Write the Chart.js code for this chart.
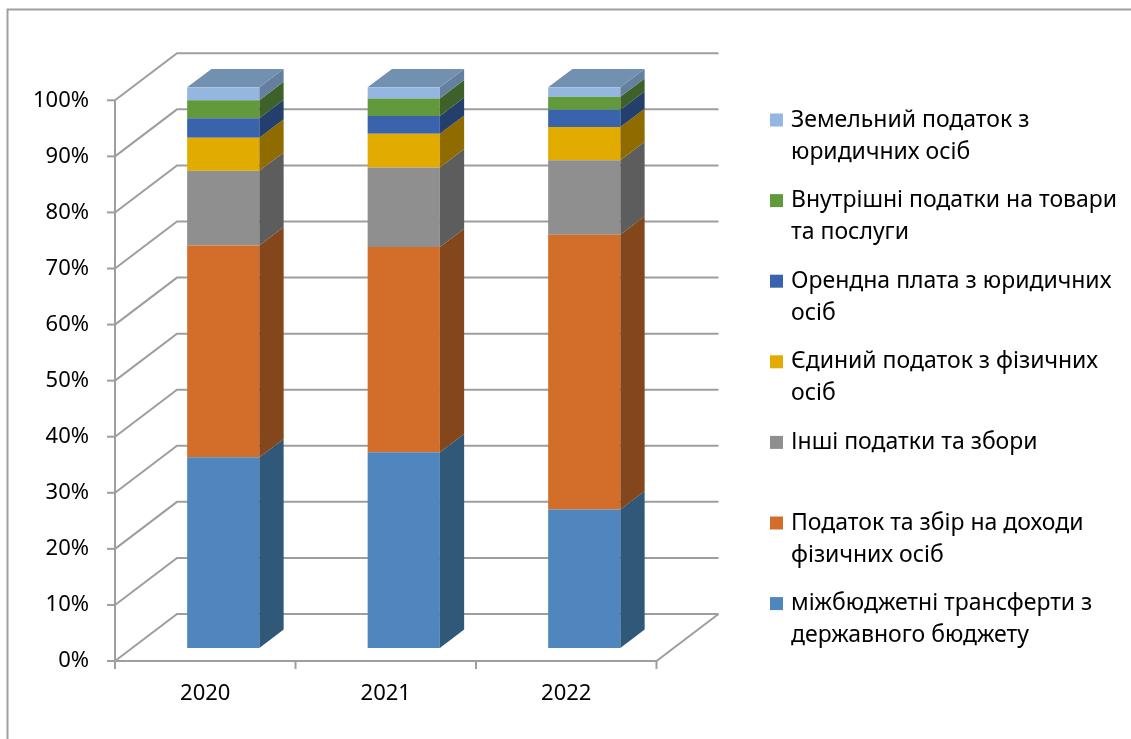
<!DOCTYPE html>
<html><head><meta charset="utf-8">
<script src="https://cdn.jsdelivr.net/npm/chart.js@4"></script>
<style>html,body{margin:0;padding:0;background:#fff}canvas{display:block}</style>
</head><body>
<canvas id="c" width="1131" height="739"></canvas>
<script>
// ---- data ----
const categories = ['2020', '2021', '2022'];
const transfers     = [34.0, 34.9, 24.7];   // міжбюджетні трансферти з державного бюджету
const personalIncome= [37.8, 36.6, 49.0];   // Податок та збір на доходи фізичних осіб
const otherTaxes    = [13.3, 14.2, 13.3];   // Інші податки та збори
const singleTax     = [5.9, 6.0, 5.9];      // Єдиний податок з фізичних осіб
const rent          = [3.5, 3.2, 3.1];      // Орендна плата з юридичних осіб
const domesticTaxes = [3.2, 3.1, 2.3];      // Внутрішні податки на товари та послуги
const landTax       = [2.3, 2.0, 1.7];      // Земельний податок з юридичних осіб
const yTickValues   = [0, 10, 20, 30, 40, 50, 60, 70, 80, 90, 100];
const seriesNames = [
  ['міжбюджетні трансферти з', 'державного бюджету'],
  ['Податок та збір на доходи', 'фізичних осіб'],
  ['Інші податки та збори'],
  ['Єдиний податок з фізичних', 'осіб'],
  ['Орендна плата з юридичних', 'осіб'],
  ['Внутрішні податки на товари', 'та послуги'],
  ['Земельний податок з', 'юридичних осіб']
];
const seriesValues = [transfers, personalIncome, otherTaxes, singleTax, rent, domesticTaxes, landTax];

// ---- styles ----
const frontColors = ['#4f86bd', '#d36e2a', '#8f8f8f', '#e2ab00', '#3a63ad', '#63993d', '#95b6e0'];
const sideColors  = ['#305878', '#84461b', '#5d5d5d', '#8f6b00', '#243f6c', '#3d6128', '#64809e'];
const topColor = '#7290b0';
const gridColor = '#9e9e9e';
const FONT = '"Noto Sans", "DejaVu Sans", sans-serif';
const FRONT = {x: -18, y: 13};   // front (axis) plane offset from bar plane
const BACK  = {x: 44,  y: -34};  // back wall offset from bar plane
const DEPTH = {x: 24.3, y: -18.4}; // bar depth

const frame = {
  id: 'frame',
  beforeDraw(chart) {
    const ctx = chart.ctx;
    ctx.save();
    ctx.fillStyle = '#fff';
    ctx.fillRect(0, 0, chart.width, chart.height);
    ctx.strokeStyle = '#a0a0a0';
    ctx.lineWidth = 2;
    ctx.beginPath();
    ctx.moveTo(7.5, chart.height + 5);
    ctx.lineTo(7.5, 9.5);
    ctx.lineTo(chart.width + 5, 9.5);
    ctx.stroke();
    ctx.restore();
  },
  beforeDatasetsDraw(chart) {
    const {ctx, chartArea: a, scales: {x, y}} = chart;
    ctx.save();
    ctx.strokeStyle = gridColor;
    ctx.lineWidth = 2;
    y.ticks.forEach(t => {
      const py = y.getPixelForValue(t.value);
      ctx.beginPath();
      ctx.moveTo(a.left + FRONT.x, py + FRONT.y);
      ctx.lineTo(a.left + BACK.x, py + BACK.y);
      ctx.lineTo(a.right + BACK.x, py + BACK.y);
      ctx.stroke();
      ctx.beginPath();
      ctx.moveTo(a.left + FRONT.x - 8, py + FRONT.y);
      ctx.lineTo(a.left + FRONT.x, py + FRONT.y);
      ctx.stroke();
    });
    const y0 = y.getPixelForValue(0), yMax = y.getPixelForValue(100);
    ctx.beginPath();
    ctx.moveTo(a.left + FRONT.x, yMax + FRONT.y);
    ctx.lineTo(a.left + FRONT.x, y0 + FRONT.y);
    ctx.lineTo(a.right + FRONT.x, y0 + FRONT.y);
    ctx.lineTo(a.right + BACK.x, y0 + BACK.y);
    ctx.stroke();
    const n = categories.length;
    for (let i = 0; i <= n; i++) {
      const px = a.left + FRONT.x + i * a.width / n;
      ctx.beginPath();
      ctx.moveTo(px, y0 + FRONT.y);
      ctx.lineTo(px, y0 + FRONT.y + 8);
      ctx.stroke();
    }
    ctx.restore();
  },
  afterDatasetsDraw(chart) {
    const ctx = chart.ctx;
    const last = chart.data.datasets.length - 1;
    ctx.save();
    chart.data.datasets.forEach((ds, di) => {
      const meta = chart.getDatasetMeta(di);
      meta.data.forEach(bar => {
        const p = bar.getProps(['x', 'y', 'base', 'width'], true);
        const l = p.x - p.width / 2, r = p.x + p.width / 2;
        const top = Math.min(p.y, p.base), bot = Math.max(p.y, p.base);
        ctx.fillStyle = sideColors[di];
        ctx.beginPath();
        ctx.moveTo(r, top);
        ctx.lineTo(r + DEPTH.x, top + DEPTH.y);
        ctx.lineTo(r + DEPTH.x, bot + DEPTH.y);
        ctx.lineTo(r, bot);
        ctx.closePath();
        ctx.fill();
        if (di === last) {
          ctx.fillStyle = topColor;
          ctx.beginPath();
          ctx.moveTo(l, top);
          ctx.lineTo(l + DEPTH.x, top + DEPTH.y);
          ctx.lineTo(r + DEPTH.x, top + DEPTH.y);
          ctx.lineTo(r, top);
          ctx.closePath();
          ctx.fill();
        }
      });
    });
    ctx.restore();
  },
  afterDraw(chart) {
    const ctx = chart.ctx;
    const ds = chart.data.datasets;
    ctx.save();
    ctx.font = '23px ' + FONT;
    ctx.textBaseline = 'middle';
    ctx.textAlign = 'left';
    for (let k = 0; k < ds.length; k++) {
      const di = ds.length - 1 - k;
      const cy = 120 + k * 80.6;
      ctx.fillStyle = ds[di].backgroundColor;
      ctx.fillRect(770, cy - 6.5, 13, 13);
      ctx.fillStyle = '#000';
      seriesNames[di].forEach((line, j) => ctx.fillText(line, 791, cy + j * 32));
    }
    ctx.restore();
  }
};

new Chart(document.getElementById('c'), {
  type: 'bar',
  data: {
    labels: categories,
    datasets: seriesValues.map((vals, i) => ({
      label: seriesNames[i].join(' '),
      data: vals,
      backgroundColor: frontColors[i],
      borderWidth: 0,
      categoryPercentage: 1,
      barPercentage: 0.4
    }))
  },
  options: {
    responsive: false,
    maintainAspectRatio: false,
    animation: false,
    devicePixelRatio: 1,
    layout: {padding: {left: 0, top: 87.3, right: 456.5, bottom: 0}},
    plugins: {legend: {display: false}, tooltip: {enabled: false}},
    scales: {
      x: {
        stacked: true,
        grid: {display: false, drawTicks: false},
        border: {display: false},
        ticks: {font: {family: FONT, size: 22}, color: '#000', padding: 33, labelOffset: -18, maxRotation: 0},
        afterFit: s => { s.height = 91; }
      },
      y: {
        stacked: true,
        min: 0, max: 100,
        grid: {display: false, drawTicks: false},
        border: {display: false},
        afterBuildTicks: s => { s.ticks = yTickValues.map(v => ({value: v})); },
        ticks: {font: {family: FONT, size: 22}, color: '#000', padding: 44, labelOffset: 13,
                callback: v => v + '%'},
        afterFit: s => { s.width = 133; }
      }
    }
  },
  plugins: [frame]
});
</script>
</body></html>
